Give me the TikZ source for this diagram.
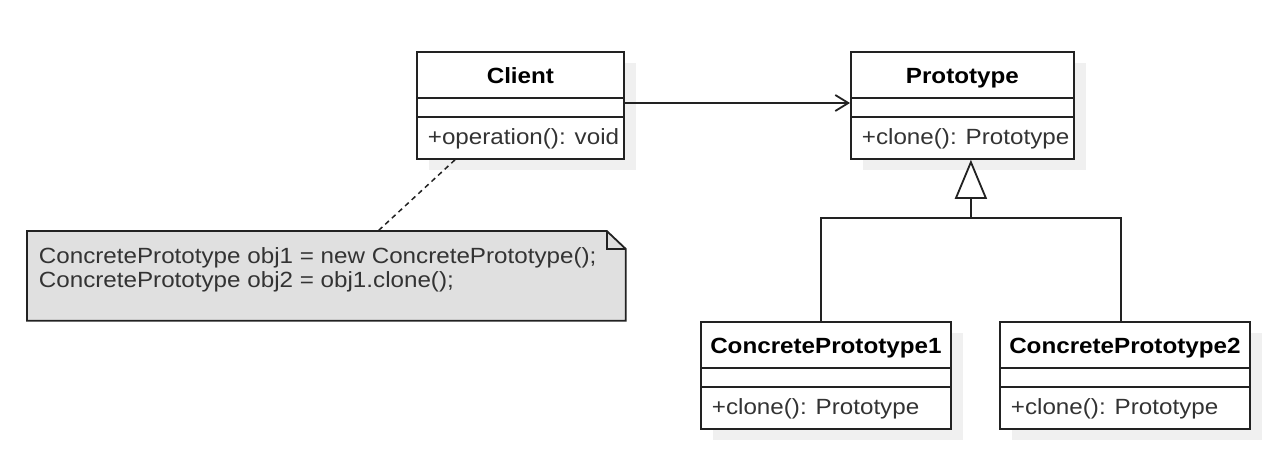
\documentclass[tikz,border=0pt]{standalone}
\usepackage{fontspec}
\setmainfont{Liberation Sans}[FakeStretch=1.1]
\usetikzlibrary{arrows.meta}
\definecolor{memtext}{HTML}{333333}
\definecolor{shadowc}{HTML}{F0F0F0}
\definecolor{notefill}{HTML}{E0E0E0}
\definecolor{linec}{HTML}{222222}
\newcommand\umlclass[6]{%
  \fill[shadowc] (#2+13,#3+12) rectangle (#2+#4+13,#3+107+12);
  \node[classbox, minimum width=#4pt, minimum height=107pt] (#1) at (#2,#3) {};
  \draw[linec] ([yshift=-47pt]#1.north west) -- ([yshift=-47pt]#1.north east);
  \draw[linec] ([yshift=-66pt]#1.north west) -- ([yshift=-66pt]#1.north east);
  \node[titletext] (#1-title) at ([yshift=-32pt]#1.north) {#5};
  \node[membertext] (#1-op) at ([xshift=11pt,yshift=-93pt]#1.north west) {#6};
}
\begin{document}
\begin{tikzpicture}[x=1pt,y=-1pt,line width=1.8pt,
  classbox/.style={draw=linec, fill=white, rectangle, inner sep=0pt, anchor=north west},
  titletext/.style={font=\fontsize{22}{24}\selectfont\bfseries, text=black, anchor=base, inner sep=0pt},
  membertext/.style={font=\fontsize{22}{24}\selectfont, text=memtext, anchor=base west, inner sep=0pt},
  notetext/.style={font=\fontsize{22}{24}\selectfont, text=memtext, anchor=base west, inner sep=0pt, align=left},
]
\useasboundingbox (0,0) rectangle (1273,448);

\umlclass{client}{416}{51}{207}{Client}{+operation(): void}
\umlclass{proto}{850}{51}{223}{Prototype}{+clone(): Prototype}
\umlclass{cp1}{700}{321}{250}{ConcretePrototype1}{+clone(): Prototype}
\umlclass{cp2}{999}{321}{250}{ConcretePrototype2}{+clone(): Prototype}

% association
\draw[linec, -{Straight Barb[length=13pt,width=16pt]}]
  ([yshift=-52pt]client.north east) -- ([yshift=-52pt]proto.north west);

% generalization
\coordinate (bar) at ([xshift=8.5pt,yshift=-58pt]proto.south);
\draw[linec] ([xshift=-5pt]cp1.north) |- (bar) -| ([xshift=-4pt]cp2.north);
\draw[linec, -{Triangle[open, length=39pt, width=32pt, fill=white]}] (bar) -- ([xshift=8.5pt]proto.south);

% note
\node[inner sep=0pt, minimum width=597pt, minimum height=88pt, anchor=north west] (note) at (27,231) {};
\draw[linec, fill=notefill]
  (note.north west) -- ([xshift=-19pt]note.north east) -- ([yshift=-18pt]note.north east)
  -- (note.south east) -- (note.south west) -- cycle;
\draw[linec, line width=1.5pt] ([xshift=-19pt]note.north east) -- ([xshift=-19pt,yshift=-18pt]note.north east) -- ([yshift=-18pt]note.north east);
\node[notetext] (note-text) at (38,263) {ConcretePrototype obj1 = new ConcretePrototype();};
\node[notetext] (note-text2) at (38,287) {ConcretePrototype obj2 = obj1.clone();};

\draw[linec, line width=1.5pt, dash pattern=on 5pt off 4pt] ([xshift=39pt]client.south west) -- ([xshift=351pt]note.north west);
\end{tikzpicture}
\end{document}
